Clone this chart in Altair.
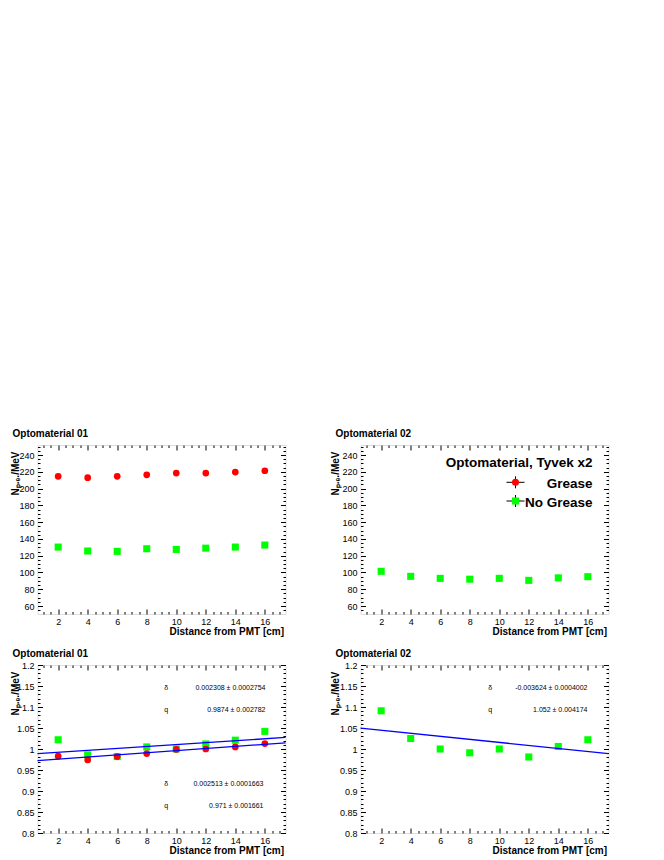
import altair as alt
import pandas as pd

FONT = "Liberation Sans"

# ---------------- data ----------------
distance = [2, 4, 6, 8, 10, 12, 14, 16]

# N_pe / MeV, Optomaterial 01
opto01_grease = [214.6, 213.0, 214.6, 216.5, 218.5, 218.5, 219.7, 221.3]
opto01_nogrease = [130.3, 125.6, 125.2, 128.3, 127.5, 129.0, 130.3, 132.7]
# N_pe / MeV, Optomaterial 02
opto02_nogrease = [101.4, 95.4, 93.0, 92.0, 93.0, 90.6, 93.6, 95.0]

# normalised values
norm01_grease = [0.983, 0.974, 0.982, 0.989, 0.999, 1.000, 1.005, 1.013]
norm01_nogrease = [1.022, 0.986, 0.982, 1.005, 1.000, 1.012, 1.021, 1.042]
norm02_nogrease = [1.091, 1.025, 1.000, 0.991, 1.000, 0.981, 1.006, 1.022]

# linear fit parameters (slope delta, intercept q) and printed texts
fit01_nogrease = [0.002308, 0.9874]
fit01_grease = [0.002513, 0.971]
fit02_nogrease = [-0.003624, 1.052]
fit01_nogrease_txt = ["0.002308 \u00b1 0.0002754", "0.9874 \u00b1 0.002782"]
fit01_grease_txt = ["0.002513 \u00b1 0.0001663", "0.971 \u00b1 0.001661"]
fit02_nogrease_txt = ["-0.003624 \u00b1 0.0004002", "1.052 \u00b1 0.004174"]

legend_header = "Optomaterial, Tyvek x2"
legend_labels = ["Grease", "No Grease"]
panel_titles = ["Optomaterial 01", "Optomaterial 02", "Optomaterial 01", "Optomaterial 02"]
x_title = "Distance from PMT [cm]"
y_title = "N\u209a.\u2091./MeV"

# axis ticks
x_domain = [0.6, 17.4]
x_major = [2, 4, 6, 8, 10, 12, 14, 16]
x_minor = [v / 2 for v in range(2, 35) if v % 4 != 0]
top_domain = [50.5, 252]
top_major = [60, 80, 100, 120, 140, 160, 180, 200, 220, 240]
top_minor = [v for v in range(50, 252, 5) if v % 20 != 0]
bot_domain = [0.8, 1.2]
bot_major = [round(0.8 + 0.05 * i, 2) for i in range(9)]
bot_minor = [round(0.8 + 0.01 * i, 2) for i in range(41) if i % 5 != 0]

RED = "#ff0000"
GREEN = "#00ff00"
BLUE = "#0000ff"
W = 248


def xs():
    return alt.Scale(domain=x_domain, nice=False, zero=False)


def ys(dom):
    return alt.Scale(domain=dom, nice=False, zero=False)


def axis_layer(ydom, xaxis, yaxis):
    df = pd.DataFrame({"x": [x_domain[0]], "y": [ydom[0]]})
    return alt.Chart(df).mark_point(opacity=0).encode(
        x=alt.X("x:Q", scale=xs(), axis=xaxis),
        y=alt.Y("y:Q", scale=ys(ydom), axis=yaxis),
    )


def tick_axis(orient, values, size):
    return alt.Axis(orient=orient, values=values, offset=-size, tickSize=size,
                    ticks=True, labels=False, domain=False, grid=False,
                    title=None, tickColor="black", tickWidth=1)


def xlabel_axis():
    return alt.Axis(orient="bottom", values=x_major, format="d", ticks=False, tickSize=0,
                    domain=False, grid=False, labelPadding=3.5, labelFontSize=9,
                    labelFont=FONT, labelColor="black",
                    title=x_title, titleFont=FONT, titleFontSize=10, titleFontWeight="bold",
                    titleColor="black", titleX=W - 2, titleY=20.5, titleAlign="right",
                    titleBaseline="alphabetic", titleAnchor="end")


def ylabel_axis(values, fmt, tx):
    return alt.Axis(orient="left", values=values, format=fmt, ticks=False, tickSize=0,
                    domain=False, grid=False, labelPadding=3.5, labelFontSize=9,
                    labelFont=FONT, labelColor="black",
                    title=y_title, titleFont=FONT, titleFontSize=10, titleFontWeight="bold",
                    titleColor="black", titleAngle=270, titleAlign="right",
                    titleBaseline="alphabetic", titleX=tx, titleY=6)


def frame_layers(ydom, ymajor, yminor, fmt, tx):
    layers = [axis_layer(ydom, xlabel_axis(), ylabel_axis(ymajor, fmt, tx))]
    for ox, oy in [("bottom", "left"), ("top", "right")]:
        layers.append(axis_layer(ydom, tick_axis(ox, x_major, 5), tick_axis(oy, ymajor, 5)))
        layers.append(axis_layer(ydom, tick_axis(ox, x_minor, 2.5), tick_axis(oy, yminor, 2.5)))
    return layers


def points(yv, ydom, color, shape, size):
    df = pd.DataFrame({"x": distance, "y": yv})
    return alt.Chart(df).mark_point(filled=True, shape=shape, size=size, color=color,
                                    opacity=1, strokeWidth=0).encode(
        x=alt.X("x:Q", scale=xs(), axis=None),
        y=alt.Y("y:Q", scale=ys(ydom), axis=None),
    )


def fit_line(params, ydom):
    slope, icpt = params
    df = pd.DataFrame({"x": x_domain, "y": [icpt + slope * v for v in x_domain]})
    return alt.Chart(df).mark_line(color=BLUE, strokeWidth=1.3).encode(
        x=alt.X("x:Q", scale=xs(), axis=None),
        y=alt.Y("y:Q", scale=ys(ydom), axis=None),
    )


def note(text, x, y, size, align="left", weight="normal"):
    df = pd.DataFrame({"t": [text]})
    return alt.Chart(df).mark_text(align=align, baseline="alphabetic", fontSize=size,
                                   font=FONT, fontWeight=weight, color="black").encode(
        text="t:N", x=alt.value(x), y=alt.value(y))


def stats(txt, xsym, xval, y0):
    return [
        note("\u03b4", xsym, y0, 7, align="center"),
        note(txt[0], xval, y0, 7, align="right"),
        note("q", xsym, y0 + 21.5, 7, align="center"),
        note(txt[1], xval, y0 + 21.5, 7, align="right"),
    ]


def legend_entry(label, color, shape, ym, yt):
    one = pd.DataFrame({"t": [label]})
    hline = alt.Chart(one).mark_rule(color="black", strokeWidth=1).encode(
        x=alt.value(146), x2=alt.value(164), y=alt.value(ym))
    vline = alt.Chart(one).mark_rule(color="black", strokeWidth=1).encode(
        x=alt.value(155), y=alt.value(ym - 6), y2=alt.value(ym + 6))
    mk = alt.Chart(one).mark_point(filled=True, shape=shape, size=50, color=color,
                                   opacity=1, strokeWidth=0).encode(
        x=alt.value(155), y=alt.value(ym))
    return [hline, vline, mk, note(label, 232, yt, 13.5, align="right", weight="bold")]


def panel(layers, title, h):
    layers = layers + [note(title, -25, -8, 10, align="left", weight="bold")]
    return alt.layer(*layers).resolve_axis(x="independent", y="independent").properties(
        width=W, height=h)


p1 = panel(frame_layers(top_domain, top_major, top_minor, "d", -19)
           + [points(opto01_nogrease, top_domain, GREEN, "square", 50),
              points(opto01_grease, top_domain, RED, "circle", 45)],
           panel_titles[0], 169)

p2 = panel(frame_layers(top_domain, top_major, top_minor, "d", -22)
           + [points(opto02_nogrease, top_domain, GREEN, "square", 50),
              note(legend_header, 232, 22, 13.5, align="right", weight="bold")]
           + legend_entry(legend_labels[0], RED, "circle", 37.3, 43)
           + legend_entry(legend_labels[1], GREEN, "square", 56, 61.5),
           panel_titles[1], 169)

p3 = panel(frame_layers(bot_domain, bot_major, bot_minor, "~g", -19)
           + [points(norm01_nogrease, bot_domain, GREEN, "square", 50),
              fit_line(fit01_nogrease, bot_domain),
              points(norm01_grease, bot_domain, RED, "circle", 45),
              fit_line(fit01_grease, bot_domain)]
           + stats(fit01_nogrease_txt, 128.7, 228, 25)
           + stats(fit01_grease_txt, 128.7, 226, 121),
           panel_titles[2], 168)

p4 = panel(frame_layers(bot_domain, bot_major, bot_minor, "~g", -22)
           + [points(norm02_nogrease, bot_domain, GREEN, "square", 50),
              fit_line(fit02_nogrease, bot_domain)]
           + stats(fit02_nogrease_txt, 129.7, 227, 25),
           panel_titles[3], 168)

chart = alt.concat(p1, p2, p3, p4, columns=2, spacing={"row": 51, "column": 75},
                   bounds="flush").properties(
    padding={"left": 1.5, "top": 420, "right": 5, "bottom": 0},
    background="white",
).configure_view(stroke="black", strokeWidth=1.4).configure(font=FONT)

chart.save("out.html", embed_options={"renderer": "svg", "actions": False})
